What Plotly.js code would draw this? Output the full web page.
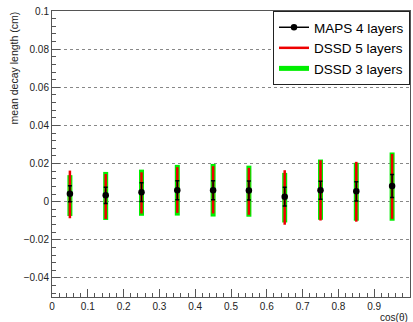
<!DOCTYPE html>
<html>
<head>
<meta charset="utf-8">
<script src="https://cdn.plot.ly/plotly-3.0.1.min.js"></script>
<style>html,body{margin:0;padding:0;background:#fff;}#chart{width:413px;height:322px;}</style>
</head>
<body>
<div id="chart"></div>
<script>
const xvals = [0.05, 0.15, 0.25, 0.35, 0.45, 0.55, 0.65, 0.75, 0.85, 0.95];
const maps4 = [0.0042, 0.0033, 0.0050, 0.0060, 0.0060, 0.0059, 0.0026, 0.0060, 0.0054, 0.0082];
const maps4Err = [0.0042, 0.0042, 0.0049, 0.0050, 0.0050, 0.0050, 0.0049, 0.0047, 0.0050, 0.0060];
const dssd5 = [0.0038, 0.0027, 0.0046, 0.0061, 0.0062, 0.0054, 0.0022, 0.0059, 0.0052, 0.0080];
const dssd5Err = [0.0125, 0.0118, 0.0108, 0.0120, 0.0124, 0.0123, 0.0143, 0.0158, 0.0157, 0.0170];
const dssd3 = [0.0032, 0.0030, 0.0047, 0.0060, 0.0060, 0.0055, 0.0021, 0.0063, 0.0052, 0.0079];
const dssd3Err = [0.0107, 0.0126, 0.0121, 0.0133, 0.0138, 0.0134, 0.0130, 0.0158, 0.0152, 0.0179];
const names = ['MAPS 4 layers', 'DSSD 5 layers', 'DSSD 3 layers'];
const xTickVals = [0, 0.1, 0.2, 0.3, 0.4, 0.5, 0.6, 0.7, 0.8, 0.9, 1];
const yTickVals = [-0.04, -0.02, 0, 0.02, 0.04, 0.06, 0.08, 0.1];
const yTickText = ['\u22120.04', '\u22120.02', '0', '0.02', '0.04', '0.06', '0.08', '0.1'];
const xTickText = ['0', '0.1', '0.2', '0.3', '0.4', '0.5', '0.6', '0.7', '0.8', '0.9', '1'];

// insert gaps so that no connecting line is drawn between points
function gapped(arr) {
  const out = [];
  arr.forEach((v, i) => { out.push(v); if (i < arr.length - 1) out.push(null); });
  return out;
}

const FONT = 'Liberation Sans, Arial, Helvetica, sans-serif';

const traces = [
  {
    name: names[2], legendrank: 3,
    x: gapped(xvals), y: gapped(dssd3), mode: 'lines',
    line: {color: '#00ee00', width: 5},
    error_y: {type: 'data', array: gapped(dssd3Err), visible: true, color: '#00ee00', thickness: 5, width: 0}
  },
  {
    name: names[1], legendrank: 2,
    x: gapped(xvals), y: gapped(dssd5), mode: 'lines',
    line: {color: '#ee0000', width: 2.5},
    error_y: {type: 'data', array: gapped(dssd5Err), visible: true, color: '#ee0000', thickness: 2.5, width: 0}
  },
  {
    name: names[0], legendrank: 1,
    x: gapped(xvals), y: gapped(maps4), mode: 'lines+markers',
    line: {color: '#000', width: 1.5},
    marker: {color: '#000', size: 6.5, symbol: 'circle'},
    error_y: {type: 'data', array: gapped(maps4Err), visible: true, color: '#000', thickness: 1.5, width: 2}
  }
];

const axisCommon = {
  showline: true, mirror: true, linecolor: '#555', linewidth: 1,
  ticks: 'inside', ticklen: 8, tickwidth: 1, tickcolor: '#555',
  zeroline: false,
  tickfont: {family: FONT, size: 10, color: '#222'}
};

const layout = {
  width: 413, height: 322,
  margin: {l: 52, r: 3, t: 11, b: 25, pad: 0},
  paper_bgcolor: '#fff', plot_bgcolor: '#fff',
  font: {family: FONT, color: '#222'},
  showlegend: true,
  legend: {
    x: 1, xanchor: 'right', y: 1, yanchor: 'top',
    bgcolor: '#fff', bordercolor: '#222', borderwidth: 1,
    font: {family: FONT, size: 13.5, color: '#000'},
    itemwidth: 30
  },
  xaxis: Object.assign({}, axisCommon, {
    range: [0, 1], showgrid: false,
    tickmode: 'array', tickvals: xTickVals, ticktext: xTickText,
    minor: {dtick: 0.02, tick0: 0, ticks: 'inside', ticklen: 4, tickcolor: '#555', showgrid: false}
  }),
  yaxis: Object.assign({}, axisCommon, {
    range: [-0.05, 0.1], showgrid: true, gridcolor: '#888', griddash: 'dot', gridwidth: 1,
    tickmode: 'array', tickvals: yTickVals, ticktext: yTickText,
    minor: {dtick: 0.004, tick0: 0, ticks: 'inside', ticklen: 4, tickcolor: '#555', showgrid: false}
  }),
  annotations: [
    {
      text: 'mean decay length (cm)', textangle: -90,
      xref: 'paper', yref: 'paper', x: -0.106, y: 1.004, xanchor: 'center', yanchor: 'top',
      showarrow: false, font: {family: FONT, size: 10.5, color: '#222'}
    },
    {
      text: 'cos(\u03b8)',
      xref: 'paper', yref: 'paper', x: 1.0, y: -0.045, xanchor: 'right', yanchor: 'top',
      showarrow: false, font: {family: FONT, size: 10, color: '#222'}
    }
  ]
};

Plotly.newPlot('chart', traces, layout, {displayModeBar: false, staticPlot: true});
</script>
</body>
</html>
